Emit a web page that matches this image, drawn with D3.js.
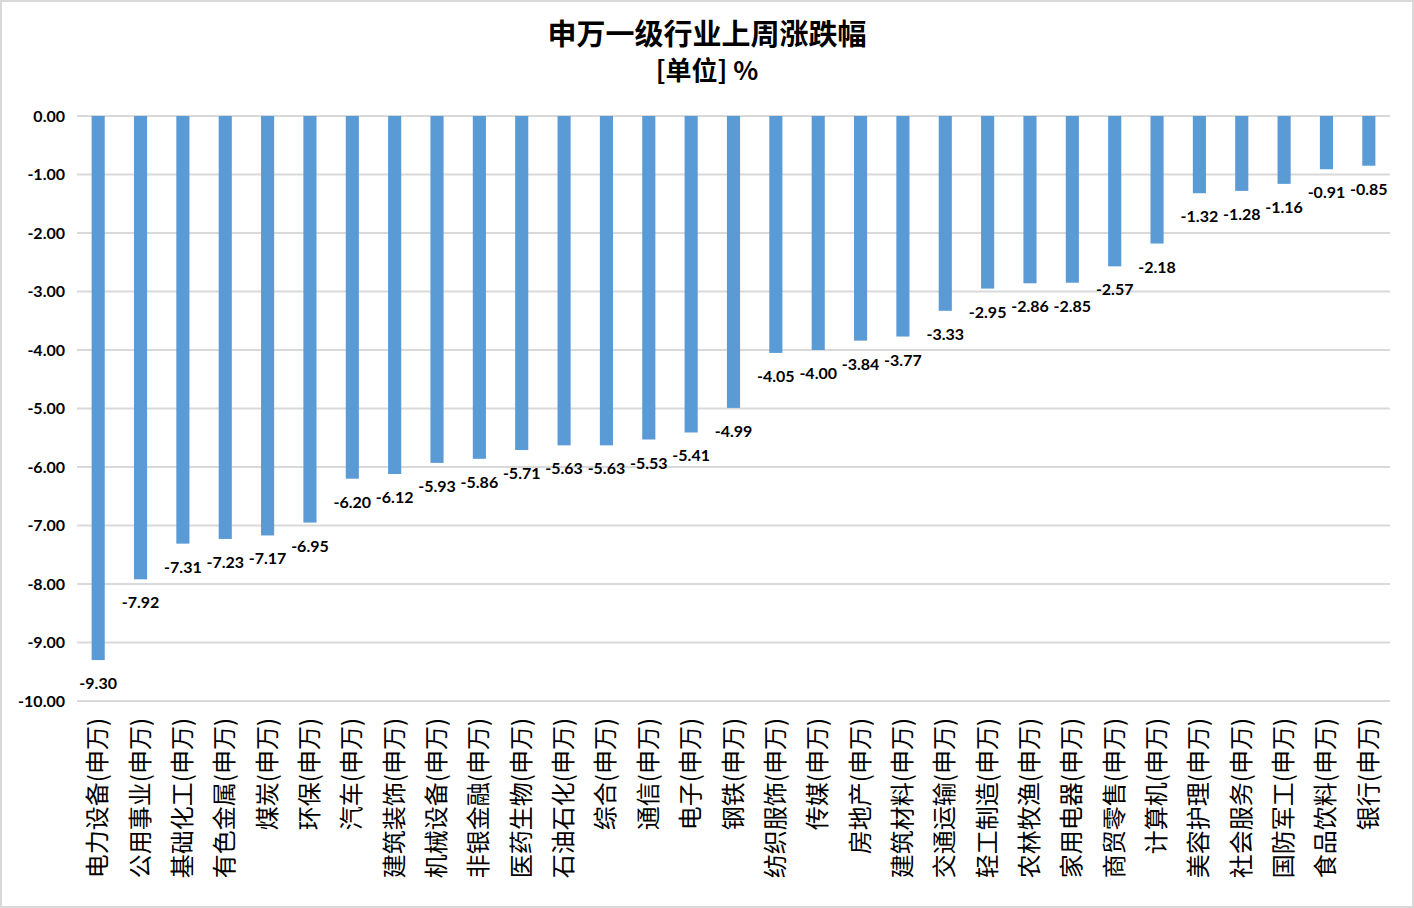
<!DOCTYPE html>
<html>
<head>
<meta charset="utf-8">
<script src="https://cdn.jsdelivr.net/npm/d3@7"></script>
<style>
  body { margin: 0; background: #fff; }
  svg { display: block; }
</style>
</head>
<body>
<div class="chart"></div>
<script>
const width = 1414, height = 908;

const industries = ["电力设备","公用事业","基础化工","有色金属","煤炭","环保","汽车","建筑装饰","机械设备","非银金融",
  "医药生物","石油石化","综合","通信","电子","钢铁","纺织服饰","传媒","房地产","建筑材料",
  "交通运输","轻工制造","农林牧渔","家用电器","商贸零售","计算机","美容护理","社会服务","国防军工","食品饮料","银行"];
const categories = industries.map(d => d + "(申万)");
const changes = [-9.30,-7.92,-7.31,-7.23,-7.17,-6.95,-6.20,-6.12,-5.93,-5.86,
  -5.71,-5.63,-5.63,-5.53,-5.41,-4.99,-4.05,-4.00,-3.84,-3.77,
  -3.33,-2.95,-2.86,-2.85,-2.57,-2.18,-1.32,-1.28,-1.16,-0.91,-0.85];
const yTicks = [0,-1,-2,-3,-4,-5,-6,-7,-8,-9,-10];

const data = categories.map((c, i) => ({name: c, value: changes[i]}));

// plain hyphen for negatives, like the original
const fmt = d3.formatLocale({decimal: ".", thousands: ",", grouping: [3], currency: ["", ""], minus: "-"}).format(".2f");

const svg = d3.select(".chart")
    .append("svg")
    .attr("width", width)
    .attr("height", height);

// outer frame
svg.append("rect")
    .attr("x", 1).attr("y", 1)
    .attr("width", width - 2).attr("height", height - 2)
    .attr("fill", "#fff")
    .attr("stroke", "#d9d9d9")
    .attr("stroke-width", 2);

const x = d3.scaleBand()
    .domain(categories)
    .range([77, 1390])
    .paddingInner(0.69)
    .paddingOuter(0.345);

const y = d3.scaleLinear()
    .domain([0, -10])
    .range([116, 701]);

// title
svg.append("text")
    .attr("x", 707).attr("y", 45)
    .attr("text-anchor", "middle")
    .style("font-family", "'Noto Sans CJK SC', sans-serif")
    .style("font-size", "29px")
    .style("font-weight", "bold")
    .text("申万一级行业上周涨跌幅");
svg.append("text")
    .attr("x", 707).attr("y", 80)
    .attr("text-anchor", "middle")
    .style("font-family", "'Noto Sans CJK SC', sans-serif")
    .style("font-size", "26px")
    .style("font-weight", "bold")
    .text("[单位] %");

// gridlines
svg.append("g")
    .selectAll("line")
    .data(yTicks)
    .join("line")
    .attr("x1", 77).attr("x2", 1390)
    .attr("y1", d => y(d)).attr("y2", d => y(d))
    .attr("stroke", "#d9d9d9")
    .attr("stroke-width", 2);

// y axis labels
const yAxis = d3.axisLeft(y)
    .tickValues(yTicks)
    .tickFormat(fmt)
    .tickSize(0)
    .tickPadding(12);
svg.append("g")
    .attr("transform", "translate(77,0)")
    .call(yAxis)
    .call(g => g.select(".domain").remove())
    .selectAll("text")
    .style("font-family", "Lato, 'Open Sans', sans-serif")
    .style("font-size", "16px")
    .style("font-weight", "bold")
    .attr("fill", "#000");

// bars
svg.append("g")
    .selectAll("rect")
    .data(data)
    .join("rect")
    .attr("x", d => x(d.name))
    .attr("y", y(0))
    .attr("width", x.bandwidth())
    .attr("height", d => y(d.value) - y(0))
    .attr("fill", "#5b9bd5");

// value labels
svg.append("g")
    .selectAll("text")
    .data(data)
    .join("text")
    .attr("x", d => x(d.name) + x.bandwidth() / 2)
    .attr("y", d => y(d.value) + 29)
    .attr("text-anchor", "middle")
    .style("font-family", "Lato, 'Open Sans', sans-serif")
    .style("font-size", "16px")
    .style("font-weight", "bold")
    .text(d => fmt(d.value));

// category labels, vertical
svg.append("g")
    .selectAll("text")
    .data(data)
    .join("text")
    .attr("transform", d => `translate(${x(d.name) + x.bandwidth() / 2 + 8},718) rotate(-90)`)
    .attr("text-anchor", "end")
    .style("font-family", "'Noto Sans CJK SC', sans-serif")
    .style("font-size", "24px")
    .text(d => d.name);
</script>
</body>
</html>
